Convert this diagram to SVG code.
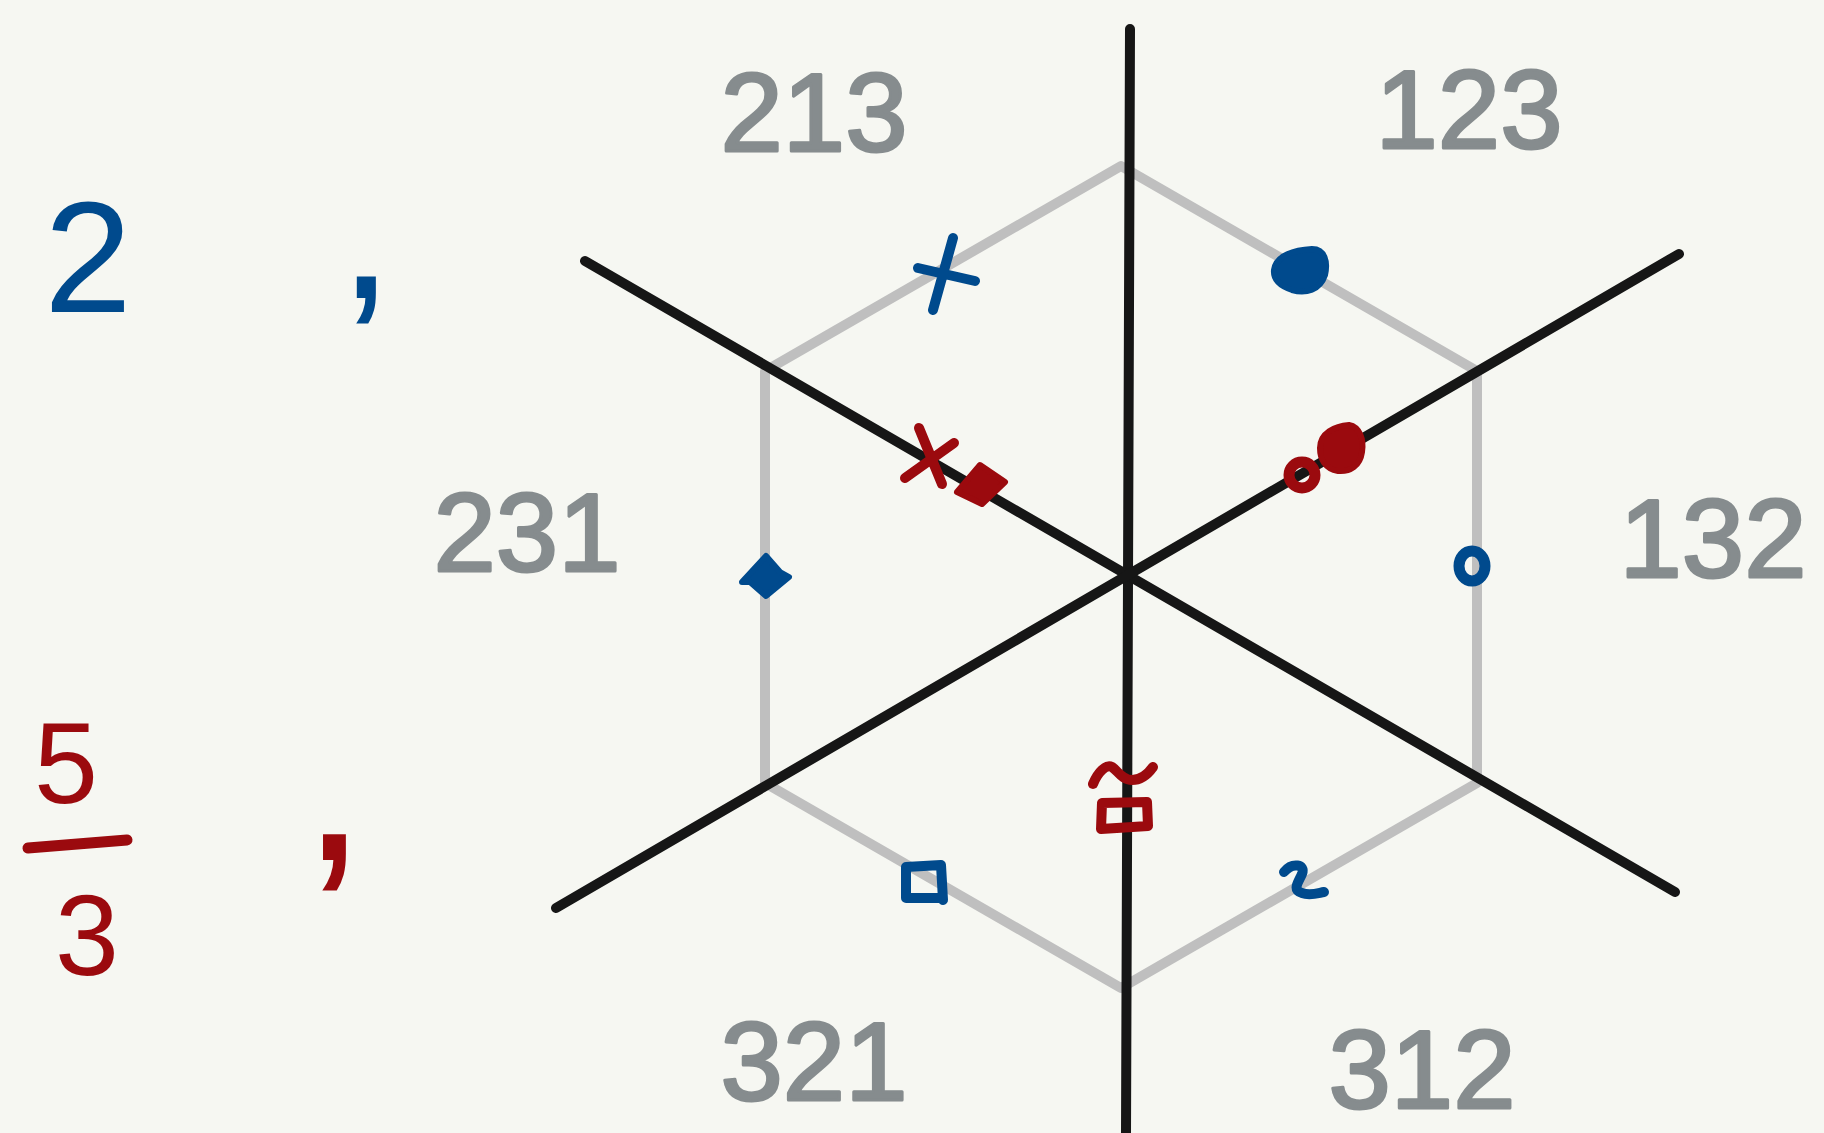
<svg xmlns="http://www.w3.org/2000/svg" width="1824" height="1133" viewBox="0 0 1824 1133">
<style>
.bg{fill:#f6f7f2}
.hex{fill:none;stroke:#bfbfbf;stroke-width:10;stroke-linejoin:round}
.axis{stroke:#161616;stroke-width:10;stroke-linecap:round;fill:none}
.lbl{font-family:"Liberation Sans",Arial,sans-serif;font-size:112px;fill:#868c8e;stroke:#868c8e;stroke-width:3;stroke-linejoin:round;text-anchor:middle}
.bt{font-family:"Liberation Sans",Arial,sans-serif;fill:#004a8d;text-anchor:middle}
.rt{font-family:"Liberation Sans",Arial,sans-serif;fill:#9b0a0e;text-anchor:middle}
.bs{fill:none;stroke:#004a8d;stroke-width:10;stroke-linecap:round;stroke-linejoin:round}
.rs{fill:none;stroke:#9b0a0e;stroke-width:10;stroke-linecap:round;stroke-linejoin:round}
.bf{fill:#004a8d;stroke:#004a8d;stroke-width:6;stroke-linejoin:round}
.rf{fill:#9b0a0e;stroke:#9b0a0e;stroke-width:6;stroke-linejoin:round}
</style>
<rect class="bg" x="0" y="0" width="1824" height="1133"/>

<g id="hexagon">
<polygon class="hex" points="1121,166 1477,371 1477,783 1121,988 765,783 765,371"/>
</g>

<g id="connectors">
<line class="axis" x1="1130" y1="29" x2="1126" y2="1133"/>
<line class="axis" x1="585" y1="261" x2="1675" y2="892"/>
<line class="axis" x1="556" y1="908" x2="1679" y2="254"/>
</g>

<g id="labels">
<text class="lbl" x="814" y="151">213</text>
<text class="lbl" x="1469" y="148">123</text>
<text class="lbl" x="527" y="571">231</text>
<text class="lbl" x="1713" y="577">132</text>
<text class="lbl" x="814" y="1100">321</text>
<text class="lbl" x="1422" y="1108" font-size="108">312</text>
</g>

<g id="left-values">
<text class="bt" x="88" y="312" font-size="158">2</text>
<text class="bt" x="366" y="298" font-size="200">,</text>
<text class="rt" x="66" y="803" font-size="115">5</text>
<line x1="28" y1="848" x2="127" y2="840" stroke="#9b0a0e" stroke-width="11" stroke-linecap="round"/>
<text class="rt" x="87" y="975" font-size="115">3</text>
<text class="rt" x="334" y="860" font-size="240">,</text>
</g>

<g id="blue-marks">
<g id="blue-plus"><path class="bs" d="M953,238 L933,310 M918,268 L975,281"/></g>
<g id="blue-blob"><path class="bf" d="M1274,270 C1276,255 1295,250 1312,249 C1325,249 1328,262 1325,275 C1320,290 1306,294 1292,290 C1280,286 1273,280 1274,270 Z"/></g>
<g id="blue-diamond"><path class="bf" d="M766,556 L780,572 L789,577 L766,596 L750,582 L742,582 Z"/></g>
<g id="blue-ring"><ellipse cx="1472" cy="566" rx="13" ry="15" fill="none" stroke="#004a8d" stroke-width="11"/></g>
<g id="blue-square"><path class="bs" d="M906,867 L941,865 L943,900 M906,867 L906,898 L941,898"/></g>
<g id="blue-squiggle"><path class="bs" d="M1284,872 C1292,862 1306,864 1302,874 C1298,883 1292,890 1302,893 C1310,896 1318,893 1324,892"/></g>
</g>

<g id="red-marks">
<g id="red-x"><path class="rs" d="M919,428 L942,484 M905,478 L954,443"/></g>
<g id="red-diamond"><path class="rf" d="M980,465 L1005,482 L982,504 L957,492 Z"/></g>
<g id="red-ring"><circle cx="1302" cy="475" r="13" fill="none" stroke="#9b0a0e" stroke-width="11"/></g>
<g id="red-blob"><path class="rf" d="M1320,448 C1320,433 1335,426 1349,425 C1360,427 1364,440 1362,452 C1360,466 1350,472 1338,471 C1325,469 1320,459 1320,448 Z"/></g>
<g id="red-tilde-square">
<path class="rs" d="M1093,784 C1098,772 1106,764 1112,767 C1118,771 1122,780 1132,780 C1142,780 1148,774 1153,767"/>
<path class="rs" d="M1102,803 L1147,802 L1148,826 L1101,829 Z"/>
</g>
</g>
</svg>
